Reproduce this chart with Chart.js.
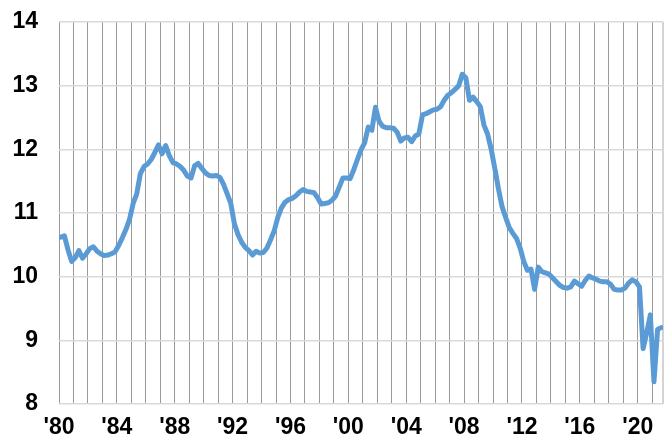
<!DOCTYPE html>
<html>
<head>
<meta charset="utf-8">
<script src="https://cdn.jsdelivr.net/npm/chart.js@4/dist/chart.umd.min.js"></script>
<style>
  html, body { margin: 0; padding: 0; background: #fff; }
  #chart { display: block; }
</style>
</head>
<body>
<canvas id="chart" width="671" height="440"></canvas>
<script>
// quarterly values, 1980 Q1 .. 2021 Q3
const firstYear = 1980;
const v1980s = [
  10.62, 10.64, 10.42, 10.24,
  10.30, 10.41, 10.29, 10.36,
  10.44, 10.47, 10.40, 10.36,
  10.33, 10.34, 10.36, 10.39,
  10.49, 10.61, 10.74, 10.90,
  11.15, 11.30, 11.62, 11.73,
  11.77, 11.84, 11.95, 12.07,
  11.93, 12.06, 11.90, 11.79,
  11.77, 11.73, 11.67, 11.58,
  11.55, 11.74, 11.78, 11.70
];
const v1990s = [
  11.63, 11.59, 11.58, 11.59,
  11.56, 11.45, 11.30, 11.15,
  10.83, 10.66, 10.54, 10.46,
  10.41, 10.34, 10.40, 10.37,
  10.38, 10.45, 10.58, 10.72,
  10.93, 11.08, 11.17, 11.21,
  11.23, 11.27, 11.33, 11.37,
  11.34, 11.33, 11.32, 11.24,
  11.14, 11.15, 11.16, 11.20,
  11.27, 11.41, 11.55, 11.55
];
const v2000s = [
  11.54, 11.68, 11.84, 11.99,
  12.10, 12.35, 12.30, 12.66,
  12.44, 12.36, 12.34, 12.34,
  12.33, 12.27, 12.13, 12.18,
  12.19, 12.12, 12.21, 12.24,
  12.54, 12.56, 12.59, 12.62,
  12.63, 12.67, 12.77, 12.85,
  12.89, 12.94, 13.00, 13.18,
  13.12, 12.77, 12.82, 12.75,
  12.67, 12.38, 12.24, 12.00
];
const v2010s = [
  11.70, 11.38, 11.10, 10.93,
  10.77, 10.68, 10.60, 10.45,
  10.24, 10.10, 10.12, 9.80,
  10.15, 10.08, 10.06, 10.04,
  9.98, 9.92, 9.86, 9.83,
  9.82, 9.84, 9.93, 9.89,
  9.85, 9.94, 10.01, 9.98,
  9.96, 9.93, 9.92, 9.92,
  9.88, 9.80, 9.79, 9.79,
  9.82, 9.90, 9.95, 9.92
];
const v2020s = [9.84, 8.87, 9.12, 9.40, 8.35, 9.17, 9.20];

const tickYears = [1980, 1984, 1988, 1992, 1996, 2000, 2004, 2008, 2012, 2016, 2020];
const tickLabels = ["'80", "'84", "'88", "'92", "'96", "'00", "'04", "'08", "'12", "'16", "'20"];

const values = v1980s.concat(v1990s, v2000s, v2010s, v2020s);
// each quarter sits in the middle of its slot
const points = values.map((v, i) => ({ x: firstYear + (i + 0.5) / 4, y: v }));

const tickFont = { family: '"Liberation Sans", Arial, sans-serif', size: 23, weight: 'bold' };

new Chart(document.getElementById('chart'), {
  type: 'line',
  data: {
    datasets: [{
      data: points,
      borderColor: '#5b9bd5',
      borderWidth: 5,
      borderJoinStyle: 'round',
      borderCapStyle: 'round',
      pointRadius: 0,
      tension: 0,
      fill: false
    }]
  },
  options: {
    responsive: false,
    devicePixelRatio: 1,
    animation: false,
    layout: { padding: { left: 0, right: 8, top: 22, bottom: 0 } },
    plugins: { legend: { display: false }, tooltip: { enabled: false } },
    scales: {
      x: {
        type: 'linear',
        min: firstYear,
        max: firstYear + values.length / 4,
        afterBuildTicks: axis => {
          const t = [];
          for (let y = firstYear; y <= firstYear + values.length / 4; y++) t.push({ value: y });
          t.push({ value: firstYear + values.length / 4 });
          axis.ticks = t;
        },
        afterFit: axis => { axis.height = 36; axis.paddingLeft = 0; axis.paddingRight = 0; },
        border: { display: false },
        grid: {
          drawTicks: false,
          color: ctx => Number.isInteger(ctx.tick.value) ? '#9a9a9a' : '#d4d4d4',
          lineWidth: ctx => Number.isInteger(ctx.tick.value) ? 1 : 2
        },
        ticks: {
          autoSkip: false,
          maxRotation: 0,
          padding: 10,
          color: '#000',
          font: tickFont,
          callback: value => {
            const k = tickYears.indexOf(value);
            return k >= 0 ? tickLabels[k] : '';
          }
        }
      },
      y: {
        min: 8,
        max: 14,
        // tick padding would otherwise push the plot down
        afterFit: axis => { axis.width = 59; axis.paddingTop = 0; axis.paddingBottom = 0; },
        border: { display: false },
        grid: { drawTicks: false, color: '#d9d9d9', lineWidth: 1.5 },
        ticks: { stepSize: 1, padding: 21, color: '#000', font: tickFont }
      }
    }
  }
});
</script>
</body>
</html>
